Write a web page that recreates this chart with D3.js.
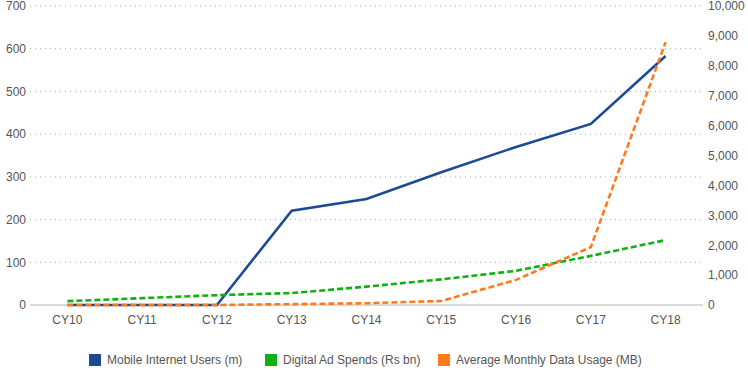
<!DOCTYPE html>
<html>
<head>
<meta charset="utf-8">
<script src="https://cdn.jsdelivr.net/npm/d3@7"></script>
<style>
  body { margin: 0; background: #fff; }
  text { font-family: "Liberation Sans", Arial, sans-serif; }
</style>
</head>
<body>
<div id="chart"></div>
<script>
const categories = ["CY10", "CY11", "CY12", "CY13", "CY14", "CY15", "CY16", "CY17", "CY18"];
const mobile_users = [0, 0, 0, 221, 248, 311, 370, 424, 583];
const ad_spends = [9, 16, 23, 28, 43, 60, 80, 115, 152];
const data_usage = [0, 0, 0, 30, 60, 134, 840, 1936, 8790];
const left_ticks = [0, 100, 200, 300, 400, 500, 600, 700];
const right_ticks = [0, 1000, 2000, 3000, 4000, 5000, 6000, 7000, 8000, 9000, 10000];

const series = [
  {name: "Mobile Internet Users (m)", values: mobile_users, axis: "left", color: "#1c4a94", dash: null},
  {name: "Digital Ad Spends (Rs bn)", values: ad_spends, axis: "left", color: "#10b010", dash: "6,3"},
  {name: "Average Monthly Data Usage (MB)", values: data_usage, axis: "right", color: "#ff7a1a", dash: "6,3"},
];

const width = 748, height = 370;
const margin = {top: 6, right: 45, bottom: 65, left: 30};

const svg = d3.select("#chart").append("svg")
  .attr("width", width)
  .attr("height", height);

const x = d3.scaleBand()
  .domain(categories)
  .range([margin.left, width - margin.right])
  .padding(0);

const yLeft = d3.scaleLinear().domain([0, 700]).range([height - margin.bottom, margin.top]);
const yRight = d3.scaleLinear().domain([0, 10000]).range([height - margin.bottom, margin.top]);

// dotted grid lines
svg.append("g")
  .selectAll("line")
  .data(left_ticks.slice(1))
  .enter().append("line")
  .attr("x1", margin.left)
  .attr("x2", width - margin.right)
  .attr("y1", d => yLeft(d))
  .attr("y2", d => yLeft(d))
  .attr("stroke", "#aaa")
  .attr("stroke-width", 1)
  .attr("stroke-dasharray", "1,4");

// baseline
svg.append("line")
  .attr("x1", margin.left)
  .attr("x2", width - margin.right)
  .attr("y1", yLeft(0))
  .attr("y2", yLeft(0))
  .attr("stroke", "#ccc")
  .attr("stroke-width", 1.5);

const leftAxis = svg.append("g")
  .attr("transform", `translate(${margin.left - 4},0)`)
  .call(d3.axisLeft(yLeft).tickValues(left_ticks).tickSize(0).tickPadding(0));

const rightAxis = svg.append("g")
  .attr("transform", `translate(${width - margin.right + 5},0)`)
  .call(d3.axisRight(yRight).tickValues(right_ticks).tickSize(0).tickPadding(0).tickFormat(d3.format(",")));

const xAxis = svg.append("g")
  .attr("transform", `translate(0,${height - margin.bottom})`)
  .call(d3.axisBottom(x).tickSize(0).tickPadding(10));

[leftAxis, rightAxis, xAxis].forEach(ax => {
  ax.select(".domain").remove();
  ax.selectAll("text")
    .attr("fill", "#555")
    .style("font-size", "12px");
});

// lines
series.forEach(s => {
  const yScale = s.axis === "left" ? yLeft : yRight;
  const line = d3.line()
    .x((d, i) => x(categories[i]) + x.bandwidth() / 2)
    .y(d => yScale(d));

  svg.append("path")
    .datum(s.values)
    .attr("d", line)
    .attr("fill", "none")
    .attr("stroke", s.color)
    .attr("stroke-width", 2.6)
    .attr("stroke-dasharray", s.dash);
});

// legend
const legend_x = [89, 265, 438];
const legend = svg.append("g");
series.forEach((s, i) => {
  const g = legend.append("g").attr("transform", `translate(${legend_x[i]},354)`);
  g.append("rect")
    .attr("width", 12)
    .attr("height", 12)
    .attr("fill", s.color);
  g.append("text")
    .attr("x", 18)
    .attr("y", 10)
    .attr("fill", "#555")
    .style("font-size", "12px")
    .text(s.name);
});
</script>
</body>
</html>
